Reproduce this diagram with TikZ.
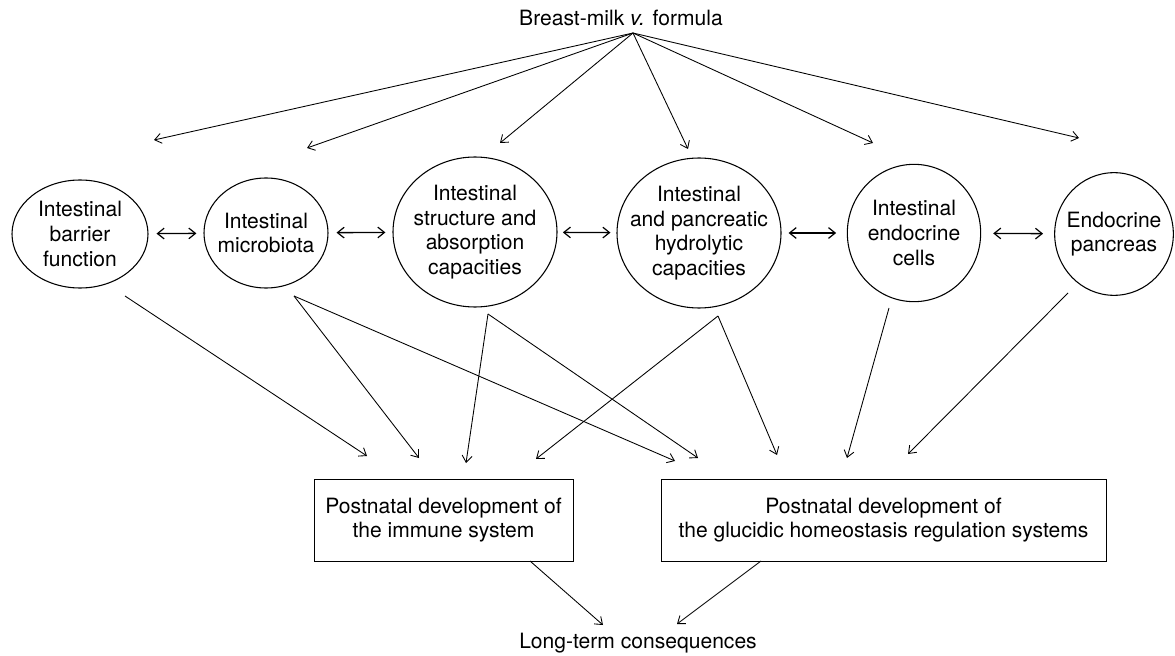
\documentclass[tikz,border=0pt]{standalone}
\usepackage{fontspec}
\setmainfont{TeX Gyre Heros}
\usetikzlibrary{arrows.meta,shapes.geometric}
\begin{document}
\begin{tikzpicture}[x=0.75pt,y=-0.75pt,
  font=\fontsize{15.8}{18.5}\selectfont,
  oval/.style={draw,ellipse,line width=0.8pt,inner sep=0pt},
  txt/.style={align=center,inner sep=0pt},
  boxnode/.style={draw,rectangle,line width=0.75pt,inner sep=0pt,align=center},
  arr/.style={line width=0.65pt,-{Straight Barb[length=5pt,width=7.5pt,line width=0.65pt]}},
  dbl/.style={line width=1pt,{Straight Barb[length=5pt,width=8pt,line width=0.9pt]}-{Straight Barb[length=5pt,width=8pt,line width=0.9pt]}}]
\useasboundingbox (0,0) rectangle (1175,656);

% title and hub
\node[txt] (title) at (621,18) {Breast-milk \textit{v.} formula};
\coordinate (hub) at (633,33);

% ellipses
\node[oval,minimum width=102pt,minimum height=81pt] (b1) at (80,234) {};
\node[txt] at (b1) {Intestinal\\barrier\\function};
\node[oval,minimum width=93pt,minimum height=82.5pt] (b2) at (266,233) {};
\node[txt] at (b2) {Intestinal\\microbiota};
\node[oval,minimum width=123pt,minimum height=112.5pt] (b3) at (475,232) {};
\node[txt] at (b3) {Intestinal\\structure and\\absorption\\capacities};
\node[oval,minimum width=123pt,minimum height=112.5pt] (b4) at (699,233) {};
\node[txt] at (b4) {Intestinal\\and pancreatic\\hydrolytic\\capacities};
\node[oval,minimum width=100pt,minimum height=103pt] (b5) at (914,233) {};
\node[txt] at (b5) {Intestinal\\endocrine\\cells};
\node[oval,minimum width=89pt,minimum height=92pt] (b6) at (1114,234) {};
\node[txt] at (b6) {Endocrine\\pancreas};

% boxes
\node[boxnode,minimum width=194.25pt,minimum height=61.5pt] (immune) at (443.5,520) {Postnatal development of\\the immune system};
\node[boxnode,minimum width=333.75pt,minimum height=61.5pt] (gluc) at (883.5,520) {Postnatal development of\\the glucidic homeostasis regulation systems};

% bottom text
\node[txt] (long) at (638,643) {Long-term consequences};

% double arrows between ellipses
\draw[dbl,shorten <=6pt,shorten >=5.3pt] (b1) -- (b2);
\draw[dbl,shorten <=6pt,shorten >=5.3pt] (b2) -- (b3);
\draw[dbl,shorten <=4pt,shorten >=4.5pt] (b3) -- (b4);
\draw[dbl,shorten <=5.3pt,shorten >=8pt] (b4) -- (b5);
\draw[dbl,shorten <=9pt,shorten >=8.3pt] (b5) -- (b6);

% top arrows
\coordinate (t1) at (154,140);
\coordinate (t2) at (307,148);
\coordinate (t3) at (500,143);
\coordinate (t4) at (688,149);
\coordinate (t5) at (873,143);
\coordinate (t6) at (1079,138);
\foreach \t in {t1,t2,t3,t4,t5,t6} \draw[arr] (hub) -- (\t);

% lower arrow start points
\coordinate (s1) at (125,296);
\coordinate (s2) at (294,296);
\coordinate (s3) at (488,314);
\coordinate (s4) at (718,316);
\coordinate (s5) at (889,308);
\coordinate (s6) at (1068,293);
% lower arrow end points
\coordinate (e1) at (367,456);
\coordinate (e2a) at (419,458);
\coordinate (e2b) at (675,461);
\coordinate (e3a) at (466,463);
\coordinate (e3b) at (698,458);
\coordinate (e4a) at (536,459);
\coordinate (e4b) at (777,455);
\coordinate (e5) at (847,458);
\coordinate (e6) at (908,454);

\draw[arr] (s1) -- (e1);
\draw[arr] (s2) -- (e2a);
\draw[arr] (s2) -- (e2b);
\draw[arr] (s3) -- (e3a);
\draw[arr] (s3) -- (e3b);
\draw[arr] (s4) -- (e4a);
\draw[arr] (s4) -- (e4b);
\draw[arr] (s5) -- (e5);
\draw[arr] (s6) -- (e6);

% arrows to long-term consequences
\coordinate (i1) at (530,561);
\coordinate (l1) at (603,625);
\coordinate (g1) at (761,561);
\coordinate (l2) at (677,624);
\draw[arr] (i1) -- (l1);
\draw[arr] (g1) -- (l2);
\end{tikzpicture}
\end{document}
